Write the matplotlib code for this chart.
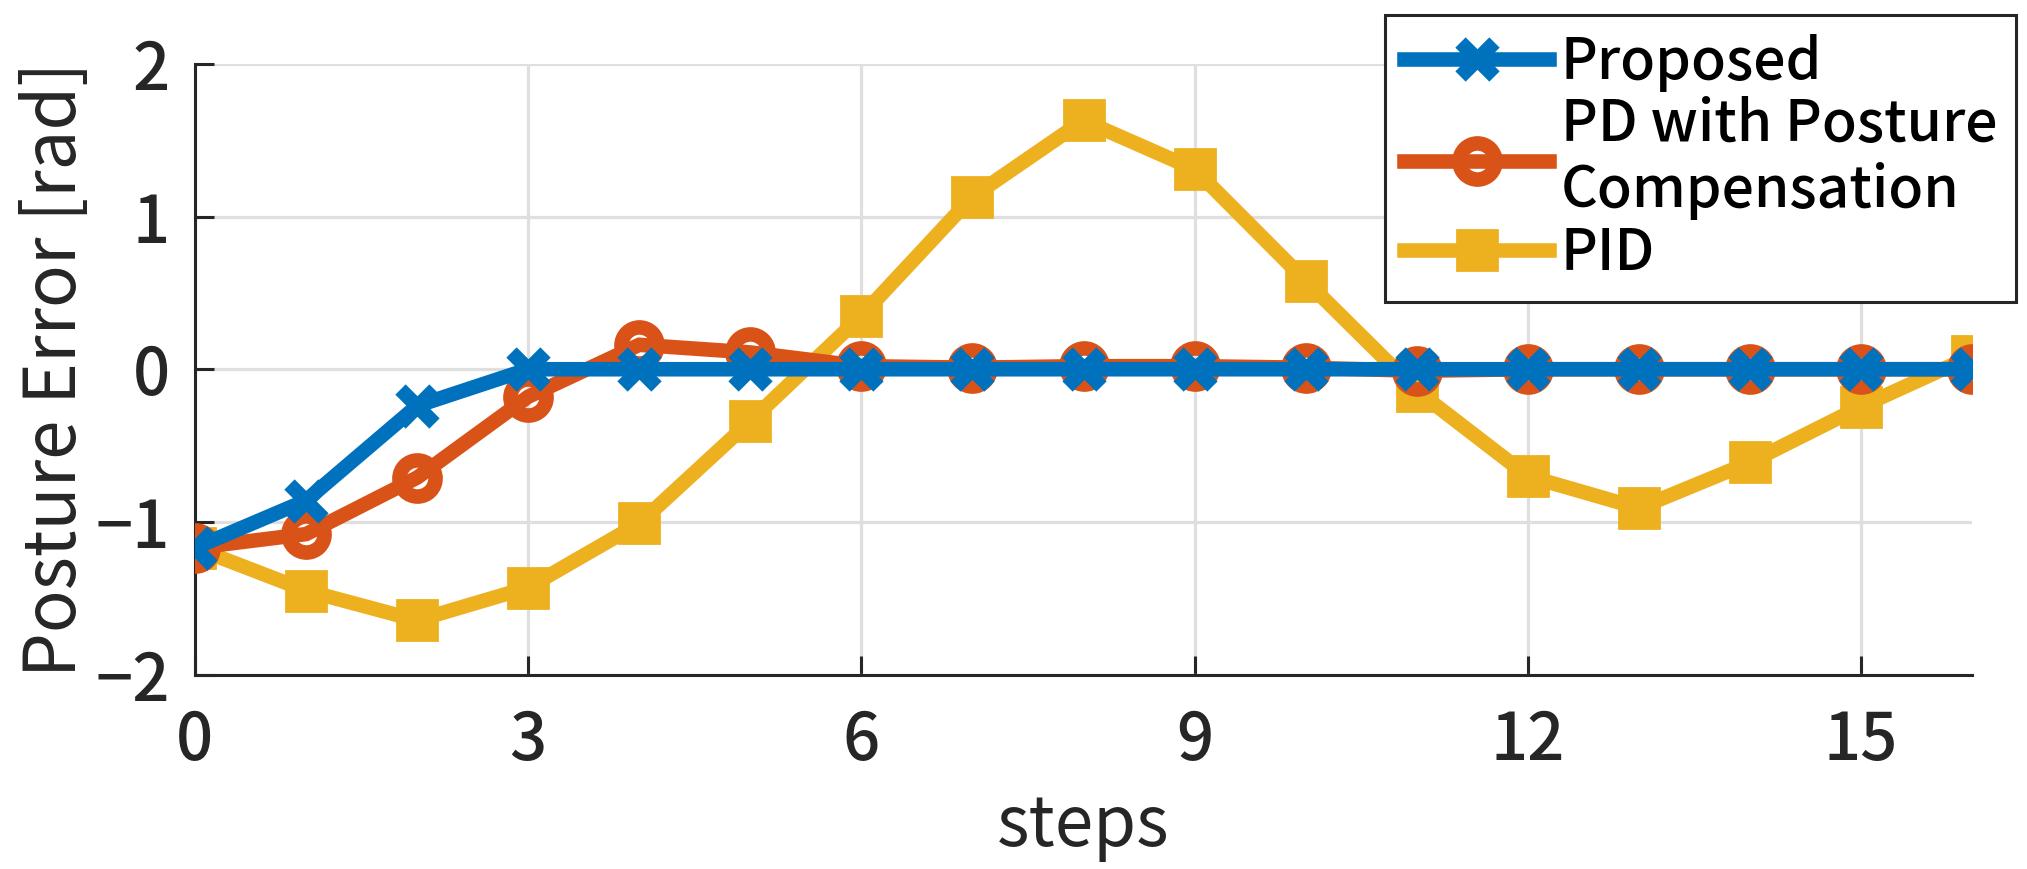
"""
Posture error per step for the three controllers (Proposed / PD with posture
compensation / PID). MATLAB-style look: thick lines, big markers, light grid.
"""

import numpy as np
import matplotlib
matplotlib.use("Agg")
import matplotlib.pyplot as plt

plt.rcParams["font.family"] = ["Noto Sans CJK JP", "DejaVu Sans"]
plt.rcParams["font.weight"] = "medium"

# ── Data ──────────────────────────────────────────────────────────────────────
steps = np.arange(17)
proposed = [-1.17, -0.86, -0.24, 0.0, 0.0, 0.0, 0.0, 0.0, 0.0,
            0.0, 0.0, 0.0, 0.0, 0.0, 0.0, 0.0, 0.0]
pd_comp = [-1.17, -1.08, -0.71, -0.18, 0.16, 0.11, 0.02, 0.01, 0.02,
           0.02, 0.01, -0.01, 0.0, 0.0, 0.0, 0.0, 0.0]
pid = [-1.17, -1.45, -1.645, -1.43, -1.01, -0.34, 0.35, 1.13, 1.63,
       1.31, 0.58, -0.14, -0.70, -0.91, -0.61, -0.245, 0.087]

labels = ["Proposed", "PD with Posture\nCompensation", "PID"]
xticks = [0, 3, 6, 9, 12, 15]
yticks = [-2, -1, 0, 1, 2]

# MATLAB default colour order
c_blue, c_orange, c_yellow = "#0072BD", "#D95319", "#EDB120"
ink = "#262626"
lw = 10.5

# ── Plot ──────────────────────────────────────────────────────────────────────
fig = plt.figure(figsize=(20.27, 8.69), dpi=100)
ax = fig.add_axes([0.0962, 0.2238, 0.8767, 0.7026])

h_pid, = ax.plot(steps, pid, color=c_yellow, lw=lw, marker="s", ms=29,
                 mfc=c_yellow, mec=c_yellow, mew=2, zorder=3,
                 solid_joinstyle="miter")
h_pd, = ax.plot(steps, pd_comp, color=c_orange, lw=lw, marker="o", ms=26,
                mfc="none", mec=c_orange, mew=lw, zorder=4,
                solid_joinstyle="miter")
h_prop, = ax.plot(steps, proposed, color=c_blue, lw=lw, marker="x", ms=25,
                  mec=c_blue, mew=lw, zorder=5, solid_joinstyle="miter")

ax.set_xlim(0, 16)
ax.set_ylim(-2, 2)
ax.set_xticks(xticks)
ax.set_yticks(yticks)

ax.grid(True, color="#dfdfdf", lw=2.3, zorder=0)
ax.set_axisbelow(True)
for side in ["top", "right"]:
    ax.spines[side].set_visible(False)
for side in ["left", "bottom"]:
    ax.spines[side].set_color(ink)
    ax.spines[side].set_linewidth(2.2)

ax.tick_params(axis="both", direction="in", length=14, width=2.2,
               colors=ink, labelsize=47)
ax.tick_params(axis="x", pad=24)
ax.tick_params(axis="y", pad=18)

ax.set_xlabel("steps", fontsize=50, color=ink)
ax.set_ylabel("Posture Error [rad]", fontsize=51, color=ink)
ax.xaxis.set_label_coords(0.5, -0.19)
ax.yaxis.set_label_coords(-0.058, 0.5)

leg = ax.legend([h_prop, h_pd, h_pid], labels, loc="upper right",
                bbox_to_anchor=(2016 / 2027, 1 - 15 / 869),
                bbox_transform=fig.transFigure, borderaxespad=0,
                fontsize=41, handlelength=2.55, handletextpad=0.2,
                labelspacing=0.08, borderpad=0.33, fancybox=False,
                framealpha=1, edgecolor=ink, numpoints=1)
leg.get_frame().set_linewidth(2.2)
leg.set_zorder(10)
for t in leg.get_texts():
    t.set_linespacing(1.18)
    t.set_color("black")

out = "out.png"
fig.savefig(out, dpi=100)
print(f"Saved: {out}")
